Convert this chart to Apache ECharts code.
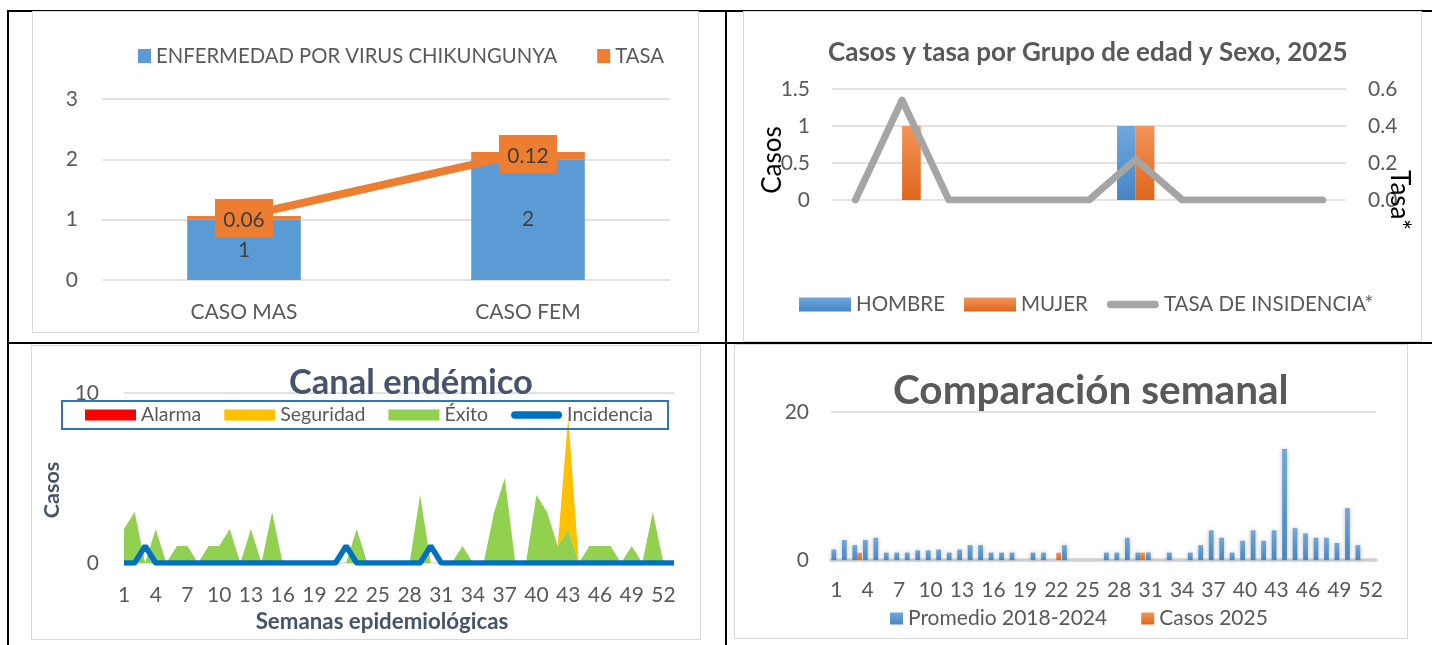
<!DOCTYPE html>
<html>
<head>
<meta charset="utf-8">
<script src="https://cdn.jsdelivr.net/npm/echarts@6/dist/echarts.min.js"></script>
<style>
body { margin: 0; width: 1432px; height: 645px; position: relative; background: #fff; overflow: hidden; }
.ln { position: absolute; background: #000; }
.box { position: absolute; border: 1.5px solid #d9d9d9; box-sizing: border-box; }
.chart { position: absolute; }
</style>
</head>
<body>
<div class="ln" style="left:7px;top:10px;width:1425px;height:2px"></div>
<div class="ln" style="left:7px;top:10px;width:2px;height:635px"></div>
<div class="ln" style="left:725px;top:10px;width:2px;height:635px"></div>
<div class="ln" style="left:7px;top:342px;width:1425px;height:2px"></div>

<div class="box" style="left:32px;top:11px;width:667px;height:322px"></div>
<div class="box" style="left:743px;top:11px;width:679px;height:331px"></div>
<div class="box" style="left:31px;top:345px;width:670px;height:295px"></div>
<div class="box" style="left:734px;top:344px;width:674px;height:295px"></div>

<div class="chart" id="c1" style="left:32px;top:11px;width:667px;height:322px"></div>
<div class="chart" id="c2" style="left:743px;top:11px;width:678px;height:331px"></div>
<div class="chart" id="c3" style="left:31px;top:345px;width:669px;height:295px"></div>
<div class="chart" id="c4" style="left:734px;top:344px;width:673px;height:295px"></div>

<script>
// --- panel 1: casos por sexo
var sexos = ['CASO MAS', 'CASO FEM'];
var casosSexo = [1, 2];
var tasaSexo = [0.06, 0.12];

// --- panel 2: grupo de edad y sexo
var gruposEdad = ['< 1', '1 - 4', '5 - 9', '10 - 14', '15 - 19', '20 - 24', '25 - 29', '30 - 39', '40 - 49', '50 - 59', '60 y +'];
var hombre = [0, 0, 0, 0, 0, 0, 1, 0, 0, 0, 0];
var mujer = [0, 1, 0, 0, 0, 0, 1, 0, 0, 0, 0];
var tasaIncidencia = [0, 0.54, 0, 0, 0, 0, 0.22, 0, 0, 0, 0];

// --- panel 3: canal endemico (53 semanas)
var semanas = ['1','2','3','4','5','6','7','8','9','10','11','12','13','14','15','16','17','18','19','20',
  '21','22','23','24','25','26','27','28','29','30','31','32','33','34','35','36','37','38','39','40',
  '41','42','43','44','45','46','47','48','49','50','51','52','53'];
var exito = [2, 3, 0, 2, 0, 1, 1, 0, 1, 1, 2, 0, 2, 0, 3, 0, 0, 0, 0, 0,
  0, 0, 2, 0, 0, 0, 0, 0, 4, 0, 0, 0, 1, 0, 0, 3, 5, 0, 0, 4,
  3, 1, 2, 0, 1, 1, 1, 0, 1, 0, 3, 0, 0];
var seguridad = [0, 0, 0, 0, 0, 0, 0, 0, 0, 0, 0, 0, 0, 0, 0, 0, 0, 0, 0, 0,
  0, 0, 0, 0, 0, 0, 0, 0, 0, 0, 0, 0, 0, 0, 0, 0, 0, 0, 0, 0,
  0, 0, 6.6, 0, 0, 0, 0, 0, 0, 0, 0, 0, 0];
var alarma = [0, 0, 0, 0, 0, 0, 0, 0, 0, 0, 0, 0, 0, 0, 0, 0, 0, 0, 0, 0,
  0, 0, 0, 0, 0, 0, 0, 0, 0, 0, 0, 0, 0, 0, 0, 0, 0, 0, 0, 0,
  0, 0, 0, 0, 0, 0, 0, 0, 0, 0, 0, 0, 0];
var incidencia = [0, 0, 1, 0, 0, 0, 0, 0, 0, 0, 0, 0, 0, 0, 0, 0, 0, 0, 0, 0,
  0, 1, 0, 0, 0, 0, 0, 0, 0, 1, 0, 0, 0, 0, 0, 0, 0, 0, 0, 0,
  0, 0, 0, 0, 0, 0, 0, 0, 0, 0, 0, 0, 0];

// --- panel 4: comparacion semanal (52 semanas)
var semanas52 = semanas.slice(0, 52);
var promedio = [1.4, 2.7, 2, 2.7, 3, 1, 1, 1, 1.3, 1.3, 1.4, 1, 1.4, 2, 2, 1, 1, 1, 0, 1,
  1, 0, 2, 0, 0, 0, 1, 1, 3, 1, 1, 0, 1, 0, 1, 2, 4, 3, 1, 2.6,
  4, 2.6, 4, 15, 4.3, 3.6, 3, 3, 2.3, 7, 2, 0];
var casos2025 = [0, 0, 1, 0, 0, 0, 0, 0, 0, 0, 0, 0, 0, 0, 0, 0, 0, 0, 0, 0,
  0, 1, 0, 0, 0, 0, 0, 0, 0, 1, 0, 0, 0, 0, 0, 0, 0, 0, 0, 0,
  0, 0, 0, 0, 0, 0, 0, 0, 0, 0, 0, 0];

var FONT = 'Lato';
var GRAY = '#595959';
var GRID_LINE = { lineStyle: { color: '#d9d9d9', width: 1.5 } };
// thick rounded line used as legend key for line series
var LINE_ICON = 'path://M4,0 H51 A4,4 0 0 1 51,8 H4 A4,4 0 0 1 4,0 Z';

function grad(top, bottom) {
    return new echarts.graphic.LinearGradient(0, 0, 0, 1, [
        { offset: 0, color: top },
        { offset: 1, color: bottom }
    ]);
}

// panel 1
var chart1 = echarts.init(document.getElementById('c1'));
chart1.setOption({
    animation: false,
    textStyle: { fontFamily: FONT },
    legend: {
        left: 101, top: 30,
        itemWidth: 13, itemHeight: 14, itemGap: 40,
        icon: 'rect',
        data: ['ENFERMEDAD POR VIRUS CHIKUNGUNYA', 'TASA'],
        textStyle: { fontSize: 20.3, color: GRAY, fontFamily: FONT }
    },
    grid: { left: 70, right: 29, top: 88, bottom: 53 },
    xAxis: {
        type: 'category',
        data: sexos,
        axisLine: { show: false },
        axisTick: { show: false },
        axisLabel: { fontSize: 21, color: GRAY, margin: 22 }
    },
    yAxis: {
        type: 'value', min: 0, max: 3, interval: 1,
        splitLine: GRID_LINE,
        axisLabel: { fontSize: 21, color: GRAY, margin: 24 }
    },
    series: [
        {
            name: 'ENFERMEDAD POR VIRUS CHIKUNGUNYA',
            type: 'bar', stack: 'sexo', barWidth: '40%',
            data: casosSexo,
            itemStyle: { color: '#5b9bd5' },
            label: { show: true, position: 'inside', fontSize: 21, color: '#404040' }
        },
        {
            name: 'TASA',
            type: 'bar', stack: 'sexo',
            data: tasaSexo,
            itemStyle: { color: '#ed7d31' }
        },
        {
            name: 'TASA',
            type: 'line', z: 5,
            data: casosSexo.map(function (c, i) { return c + tasaSexo[i]; }),
            symbol: 'none',
            lineStyle: { color: '#ed7d31', width: 8 }
        },
        {
            name: 'TASA',
            type: 'scatter', z: 6,
            data: casosSexo.map(function (c, i) { return c + tasaSexo[i]; }),
            symbol: 'rect', symbolSize: [58, 38], symbolOffset: [0, 2],
            itemStyle: { color: '#ed7d31', opacity: 1 },
            label: {
                show: true, position: 'inside', offset: [0, 2],
                fontSize: 21, color: '#404040',
                formatter: function (p) { return tasaSexo[p.dataIndex].toFixed(2); }
            }
        }
    ]
});

// panel 2
var chart2 = echarts.init(document.getElementById('c2'));
chart2.setOption({
    animation: false,
    textStyle: { fontFamily: FONT },
    title: {
        text: 'Casos y tasa por Grupo de edad y Sexo, 2025',
        left: 80, top: 24,
        textStyle: { fontSize: 26, fontWeight: 'bold', color: GRAY, fontFamily: FONT }
    },
    legend: {
        left: 51, top: 278,
        itemWidth: 52, itemHeight: 14, itemGap: 19,
        data: [
            { name: 'HOMBRE', icon: 'rect' },
            { name: 'MUJER', icon: 'rect' },
            { name: 'TASA DE INSIDENCIA*', icon: LINE_ICON }
        ],
        textStyle: { fontSize: 20.5, color: GRAY, fontFamily: FONT }
    },
    grid: { left: 89, right: 75, top: 78, bottom: 142 },
    xAxis: {
        type: 'category',
        data: gruposEdad,
        axisLine: { show: false },
        axisTick: { show: false },
        axisLabel: { show: false }
    },
    yAxis: [
        {
            type: 'value', min: 0, max: 1.5, interval: 0.5,
            splitLine: GRID_LINE,
            axisLabel: { fontSize: 21, color: GRAY, margin: 22 }
        },
        {
            type: 'value', min: 0, max: 0.6, interval: 0.2,
            splitLine: { show: false },
            axisLabel: { fontSize: 21, color: GRAY, margin: 22, formatter: function (v) { return v.toFixed(1); } }
        }
    ],
    graphic: [
        {
            type: 'text', x: 30, y: 149, rotation: Math.PI / 2, z: 10,
            style: { text: 'Casos', font: '26px Lato', fill: '#000', align: 'center', verticalAlign: 'middle' }
        },
        {
            type: 'text', x: 656, y: 189, rotation: -Math.PI / 2, z: 10,
            style: { text: 'Tasa*', font: '26px Lato', fill: '#000', align: 'center', verticalAlign: 'middle' }
        }
    ],
    series: [
        {
            name: 'HOMBRE', type: 'bar', barGap: '0%', barCategoryGap: '20%',
            data: hombre,
            itemStyle: { color: grad('#70a8dd', '#4685c6') }
        },
        {
            name: 'MUJER', type: 'bar',
            data: mujer,
            itemStyle: { color: grad('#f2945a', '#e0661a') }
        },
        {
            name: 'TASA DE INSIDENCIA*', type: 'line', yAxisIndex: 1, z: 5,
            data: tasaIncidencia,
            symbol: 'none',
            itemStyle: { color: '#a5a5a5' },
            lineStyle: { color: '#a5a5a5', width: 7, cap: 'round', join: 'round' }
        }
    ]
});

// panel 3
var chart3 = echarts.init(document.getElementById('c3'));
chart3.setOption({
    animation: false,
    textStyle: { fontFamily: FONT },
    title: {
        text: 'Canal endémico',
        left: 253, top: 15,
        textStyle: { fontSize: 34.5, fontWeight: 'bold', color: '#44546a', fontFamily: FONT }
    },
    legend: {
        left: 31, top: 56,
        borderColor: '#2e75b6', borderWidth: 2,
        padding: [4, 15, 4, 23],
        itemWidth: 51, itemHeight: 11, itemGap: 23,
        data: [
            { name: 'Alarma', icon: 'rect' },
            { name: 'Seguridad', icon: 'rect' },
            { name: 'Éxito', icon: 'rect' },
            { name: 'Incidencia', icon: LINE_ICON }
        ],
        textStyle: { fontSize: 19.5, color: GRAY, fontFamily: FONT }
    },
    grid: { left: 93, right: 26, top: 48, bottom: 77 },
    xAxis: {
        type: 'category', boundaryGap: false,
        data: semanas,
        name: 'Semanas epidemiológicas', nameLocation: 'middle', nameGap: 48,
        nameTextStyle: { fontSize: 22.3, fontWeight: 'bold', color: '#44546a', fontFamily: FONT, padding: [0, 34, 0, 0] },
        axisLine: { show: false },
        axisTick: { show: false },
        axisLabel: { interval: 2, fontSize: 21, color: GRAY, margin: 22 }
    },
    yAxis: {
        type: 'value', min: 0, max: 10, interval: 10,
        name: 'Casos', nameLocation: 'middle', nameRotate: 90, nameGap: 61,
        nameTextStyle: { fontSize: 21.5, fontWeight: 'bold', color: '#44546a', fontFamily: FONT, padding: [0, 24, 0, 0] },
        splitLine: GRID_LINE,
        axisLabel: { fontSize: 21, color: GRAY, margin: 25 }
    },
    series: [
        {
            name: 'Éxito', type: 'line', stack: 'canal', data: exito,
            symbol: 'none', itemStyle: { color: '#92d050' },
            lineStyle: { width: 0 }, areaStyle: { color: '#92d050', opacity: 1 }
        },
        {
            name: 'Seguridad', type: 'line', stack: 'canal', data: seguridad,
            symbol: 'none', itemStyle: { color: '#ffc000' },
            lineStyle: { width: 0 }, areaStyle: { color: '#ffc000', opacity: 1 }
        },
        {
            name: 'Alarma', type: 'line', stack: 'canal', data: alarma,
            symbol: 'none', itemStyle: { color: '#ff0000' },
            lineStyle: { width: 0 }, areaStyle: { color: '#ff0000', opacity: 1 }
        },
        {
            name: 'Incidencia', type: 'line', data: incidencia, z: 5,
            symbol: 'none', itemStyle: { color: '#0070c0' },
            lineStyle: { color: '#0070c0', width: 5.5 }
        }
    ]
});

// panel 4
var chart4 = echarts.init(document.getElementById('c4'));
chart4.setOption({
    animation: false,
    textStyle: { fontFamily: FONT },
    title: {
        text: 'Comparación semanal',
        left: 154, top: 21,
        textStyle: { fontSize: 40.5, fontWeight: 'bold', color: GRAY, fontFamily: FONT }
    },
    legend: {
        left: 151, top: 259,
        itemWidth: 13, itemHeight: 12, itemGap: 34,
        icon: 'rect',
        data: ['Promedio 2018-2024', 'Casos 2025'],
        textStyle: { fontSize: 21, color: GRAY, fontFamily: FONT }
    },
    grid: { left: 97, right: 31, top: 68, bottom: 79 },
    xAxis: {
        type: 'category',
        data: semanas52,
        axisLine: { lineStyle: { color: '#d0d0d0', width: 3.5 } },
        axisTick: { show: false },
        axisLabel: { interval: 2, fontSize: 21, color: GRAY, margin: 20 }
    },
    yAxis: {
        type: 'value', min: 0, max: 20, interval: 20,
        splitLine: GRID_LINE,
        axisLabel: { fontSize: 21, color: GRAY, margin: 22 }
    },
    series: [
        {
            name: 'Promedio 2018-2024', type: 'bar', barGap: '0%', barCategoryGap: '10%',
            data: promedio,
            itemStyle: { color: grad('#70a8dd', '#4685c6'), shadowBlur: 4, shadowColor: 'rgba(0,0,0,0.25)' }
        },
        {
            name: 'Casos 2025', type: 'bar',
            data: casos2025,
            itemStyle: { color: grad('#f2945a', '#e0661a') }
        }
    ]
});
</script>
</body>
</html>
